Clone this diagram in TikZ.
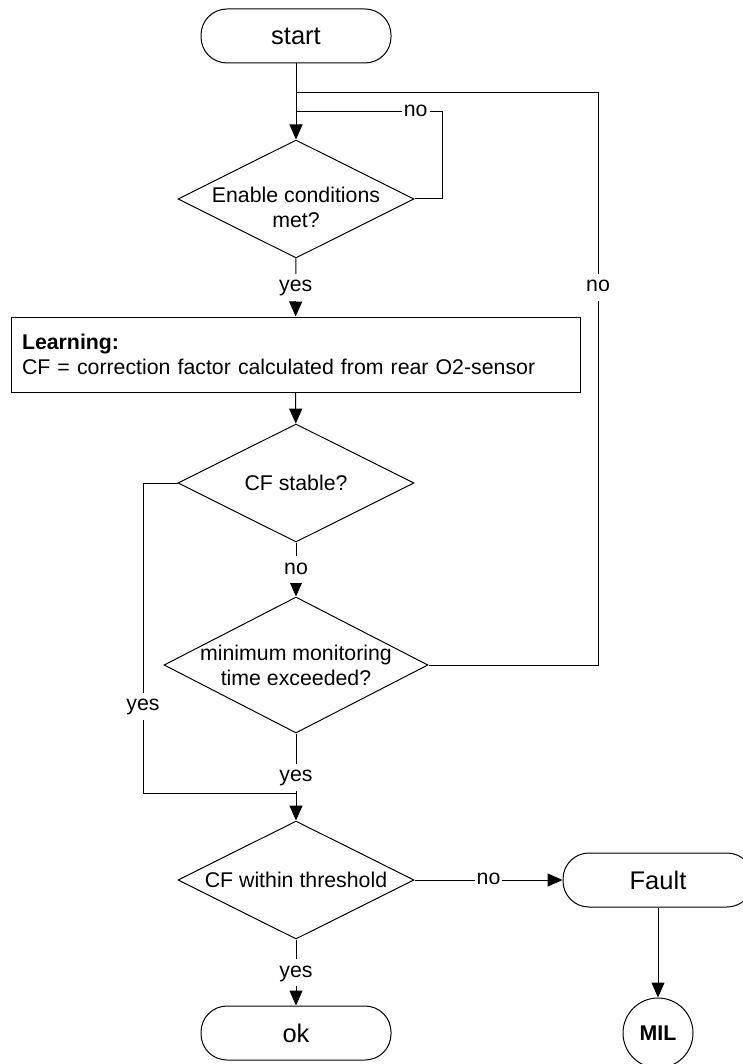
\documentclass[tikz,border=0pt]{standalone}
\usepackage{fontspec}
\setmainfont{Liberation Sans}
\usetikzlibrary{shapes.geometric,arrows.meta}

\begin{document}
\begin{tikzpicture}[x=1pt,y=-1pt,line width=1pt,
        font=\fontsize{21.3}{25}\selectfont,
        term/.style={draw,rectangle,rounded corners=26pt,minimum width=190pt,minimum height=54pt,inner sep=0pt,
            font=\fontsize{25.5}{30}\selectfont},
        dec/.style={draw,diamond,inner sep=0pt,minimum width=236pt,minimum height=118pt},
        flow/.style={-{Triangle[length=15pt,width=13pt]}},
        lbl/.style={fill=white,inner xsep=2pt,inner ysep=3pt,text height=15pt,text depth=6pt}]
    \useasboundingbox (0,0) rectangle (743,1064);
        %% Nodes
        \node[term] (start) at (296,36) {start};
        \node[dec] (dEnable) at (296,199) {};
            \node[align=center] (tEnable) at (296,207) {Enable conditions\\met?};
        \node[draw,minimum width=569pt,minimum height=75pt,text width=547pt,inner sep=11pt,align=left] (learn) at (295.5,354.5)
            {\textbf{Learning:}\\CF = correction factor calculated from rear O2-sensor};
        \node[dec] (dStable) at (296,483) {};
            \node (tStable) at (296,483) {CF stable?};
        \node[dec,minimum width=264pt,minimum height=136pt] (dMin) at (296,665) {};
            \node[align=center] (tMin) at (296,665.5) {minimum monitoring\\time exceeded?};
        \node[dec] (dWithin) at (296,880) {};
            \node (tWithin) at (296,880) {CF within threshold};
        \node[term] (ok) at (296,1033) {ok};
        \node[term] (fault) at (658,880) {Fault};
        \node[draw,circle,minimum size=70pt,inner sep=0pt,font=\fontsize{21.3}{25}\selectfont\bfseries] (mil) at (658,1033) {MIL};
        %% Corner and joint points
        \coordinate (jTop)   at (296,93);
        \coordinate (jLoop)  at (296,112);
        \coordinate (cLoop)  at (442,112);
        \coordinate (cRight) at (598,93);
        \coordinate (cLeft)  at (143,793);
        \coordinate (jYes)   at (296,793);
        %% Connectors
        \draw[flow] (start) -- (dEnable);
        \draw (dEnable.east) -| (cLoop) -- node[lbl,pos=0.18] {no} (jLoop);
        \draw[flow] (dEnable) -- node[lbl] {yes} (learn);
        \draw[flow] (learn) -- (dStable);
        \draw[flow] (dStable) -- node[lbl] {no} (dMin);
        \draw (dMin.east) -| node[lbl,pos=0.83] {no} (cRight) -- (jTop);
        \draw (dStable.west) -| node[lbl,pos=0.86] {yes} (cLeft) -- (jYes);
        \draw[flow] (dMin) -- node[lbl] {yes} (dWithin);
        \draw[flow] (dWithin) -- node[lbl] {no} (fault);
        \draw[flow] (dWithin) -- node[lbl] {yes} (ok);
        \draw[flow] (fault) -- (mil);
\end{tikzpicture}
\end{document}
